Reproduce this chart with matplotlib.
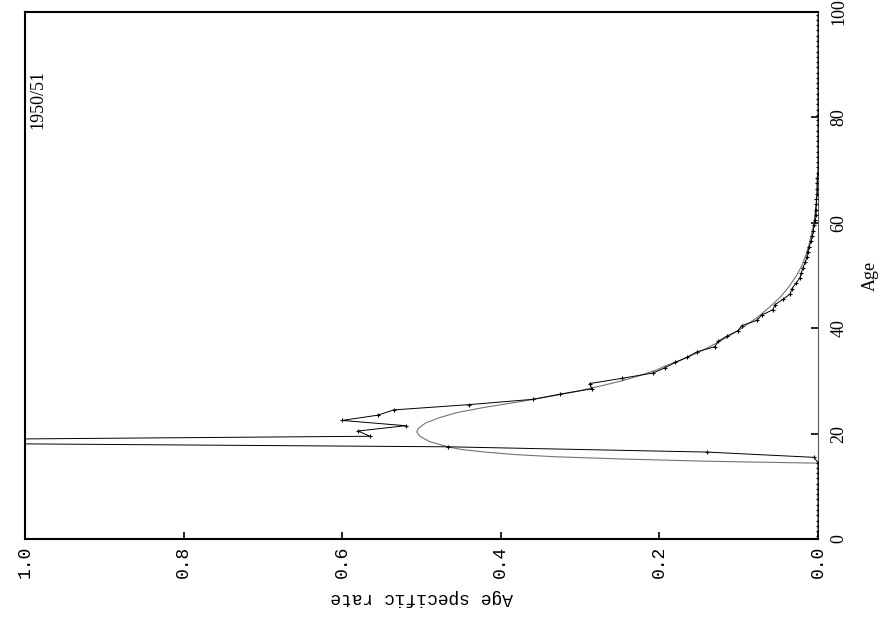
import numpy as np
import matplotlib.pyplot as plt

# Observed age specific rates (single years, plotted at mid-year)
obs_age = np.arange(100) + 0.5
obs_rate = [0.0] * 14 + [
    0.0, 0.005, 0.14, 0.467, 1.43, 0.565, 0.58, 0.52, 0.60, 0.555,
    0.535, 0.44, 0.36, 0.325, 0.285, 0.288, 0.247, 0.208, 0.193, 0.18,
    0.165, 0.153, 0.13, 0.126, 0.115, 0.101, 0.096, 0.077, 0.071, 0.057,
    0.054, 0.044, 0.035, 0.033, 0.028, 0.023, 0.021, 0.019, 0.016, 0.014,
    0.013, 0.011, 0.009, 0.007, 0.006, 0.005, 0.004, 0.003, 0.003, 0.002,
    0.002, 0.001, 0.001, 0.001, 0.001,
]
obs_rate = obs_rate + [0.0] * (100 - len(obs_rate))

# Fitted schedule
fit_age = [14.4, 14.6, 14.8, 15.2, 15.6, 16.0, 16.5, 17.0, 17.5, 18.5,
           19.5, 20.3, 21.0, 22.0, 23.0, 24.0, 25.0, 26.0, 27.0, 28.0,
           29.0, 30.0, 31.0, 32.0, 33.0, 34.0, 35.0, 36.0, 37.0, 38.0,
           39.0, 40.0, 42.0, 44.0, 46.0, 48.0, 50.0, 52.0, 54.0, 56.0,
           58.0, 60.0, 64.0, 70.0]
fit_rate = [0.0, 0.08, 0.15, 0.25, 0.33, 0.38, 0.42, 0.45, 0.467, 0.49,
            0.502, 0.506, 0.504, 0.495, 0.478, 0.455, 0.42, 0.378, 0.34, 0.305,
            0.275, 0.248, 0.225, 0.205, 0.19, 0.172, 0.157, 0.143, 0.13, 0.118,
            0.107, 0.096, 0.077, 0.061, 0.047, 0.036, 0.027, 0.02, 0.015, 0.011,
            0.008, 0.005, 0.002, 0.0]

rate_ticks = [0.0, 0.2, 0.4, 0.6, 0.8, 1.0]
age_ticks = [0, 20, 40, 60, 80, 100]

fig = plt.figure(figsize=(8.87, 6.22), dpi=100)
ax = fig.add_axes([0.0282, 0.1334, 0.894, 0.8473])

# page is turned on its side: age runs up the right edge, rate runs right-to-left
ax.plot(fit_rate, fit_age, color='0.45', lw=0.8, zorder=2)
ax.plot(obs_rate, obs_age, color='black', lw=0.7, marker='+', ms=3.5,
        mew=0.8, zorder=3)

ax.set_xlim(1.0, 0.0)
ax.set_ylim(0, 100)

ax.set_xticks(rate_ticks)
ax.set_xticklabels([f'{t:.1f}' for t in rate_ticks], rotation=90,
                   family='Liberation Mono', fontsize=13)
ax.yaxis.tick_right()
ax.set_yticks(age_ticks)
ax.set_yticklabels([str(t) for t in age_ticks], rotation=90, va='center',
                   family='Liberation Serif', fontsize=13)
ax.tick_params(direction='in', length=5, width=1.2)
ax.tick_params(axis='y', pad=9)
ax.tick_params(axis='x', pad=5)

ax.set_xlabel('Age specific rate', rotation=180, family='Liberation Mono',
              fontsize=13, labelpad=8)
ax.yaxis.set_label_position('right')
ax.set_ylabel('Age', rotation=90, family='Liberation Serif', fontsize=13,
              labelpad=10)

ax.text(0.016, 0.835, '1950/51', transform=ax.transAxes, rotation=90,
        ha='center', va='center', family='Liberation Serif', fontsize=13)

for side in ['left', 'top', 'bottom']:
    ax.spines[side].set_linewidth(1.5)
ax.spines['right'].set_linewidth(0.8)
ax.spines['right'].set_color('0.35')
ax.spines['right'].set_linestyle((0, (1, 1)))

fig.savefig('out.png', dpi=100)
